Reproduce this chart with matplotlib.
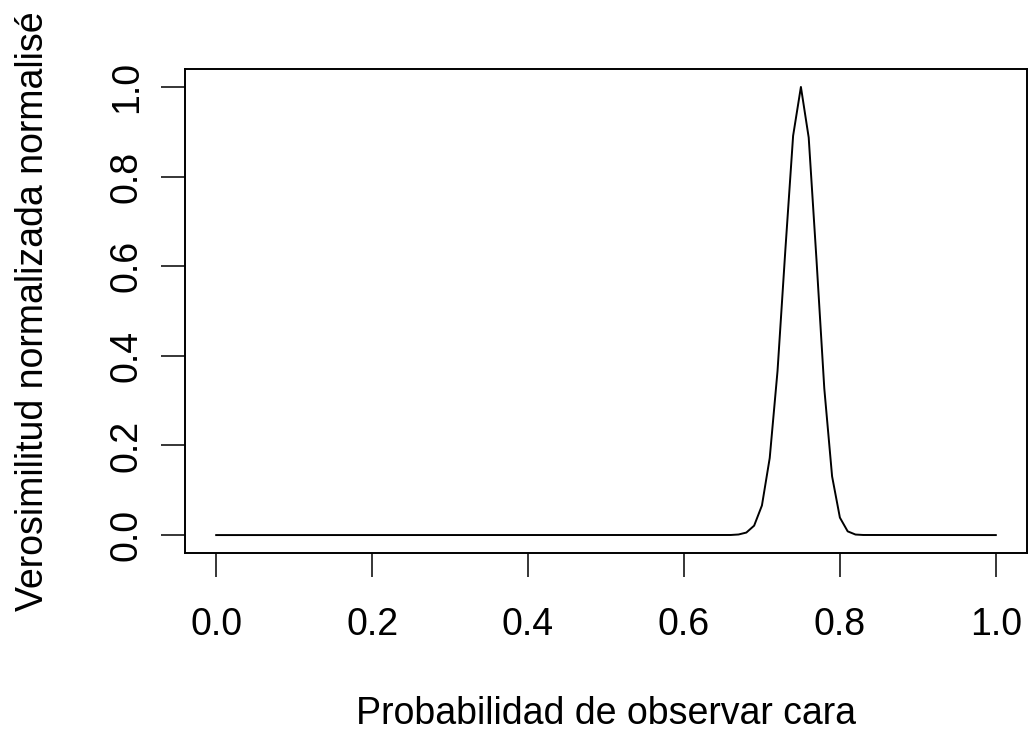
import matplotlib
matplotlib.use("Agg")
import matplotlib.pyplot as plt

plt.rcParams['font.family'] = ['Liberation Sans', 'DejaVu Sans']

# normalized likelihood over the probability of heads (flat at 0 outside the peak)
prob = [0.00, 0.66, 0.67, 0.68, 0.69, 0.70, 0.71, 0.72, 0.73, 0.74, 0.75,
        0.76, 0.77, 0.78, 0.79, 0.80, 0.81, 0.82, 0.83, 1.00]
lik = [0.0, 0.0002, 0.0013, 0.0056, 0.021, 0.066, 0.172, 0.366, 0.635, 0.891, 1.0,
       0.887, 0.614, 0.327, 0.131, 0.039, 0.0083, 0.0012, 0.0002, 0.0]

xticks = [0.0, 0.2, 0.4, 0.6, 0.8, 1.0]
yticks = [0.0, 0.2, 0.4, 0.6, 0.8, 1.0]
tick_labels = ["0.0", "0.2", "0.4", "0.6", "0.8", "1.0"]

fs = 27

fig = plt.figure(figsize=(10.29, 7.32), dpi=100)
ax = fig.add_axes([185 / 1029, 1 - 553 / 732, 842 / 1029, 484 / 732])

ax.plot(prob, lik, color='black', lw=1.4)

ax.set_xlim(-0.04, 1.04)
ax.set_ylim(-0.04, 1.04)

# R-style axes: ticks only, detached from the box
ax.set_xticks(xticks)
ax.set_xticklabels(tick_labels, fontsize=fs)
ax.set_yticks(yticks)
ax.set_yticklabels(tick_labels, fontsize=fs, rotation=90, va='center')
ax.tick_params(axis='both', length=17, width=1.1, color='black')
ax.tick_params(axis='x', pad=22)
ax.tick_params(axis='y', pad=12)

for s in ax.spines.values():
    s.set_linewidth(1.4)

ax.set_xlabel("Probabilidad de observar cara", fontsize=fs)
ax.set_ylabel("Verosimilitud normalizada normalisé", fontsize=fs)
ax.xaxis.set_label_coords(0.5, -0.2955)
ax.yaxis.set_label_coords(-0.159, 0.5)

fig.savefig("out.png", dpi=100)
